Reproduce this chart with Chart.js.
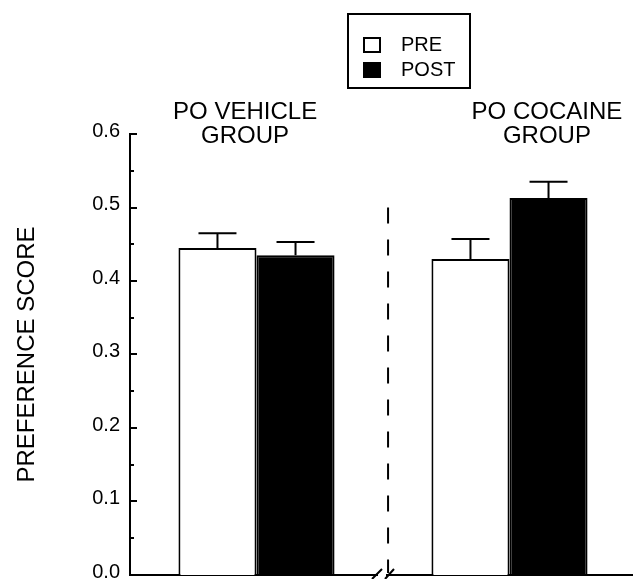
<!DOCTYPE html>
<html>
<head>
<meta charset="utf-8">
<script src="https://cdn.jsdelivr.net/npm/chart.js@4/dist/chart.umd.min.js"></script>
<style>
  html, body { margin: 0; padding: 0; background: #fff; overflow: hidden; }
  #wrap { width: 633px; height: 579px; position: relative; overflow: hidden; }
</style>
</head>
<body>
<div id="wrap"><canvas id="c" width="636" height="590"></canvas></div>
<script>
// ---- data ----
const categories = ['PO VEHICLE GROUP', 'PO COCAINE GROUP'];
const groupLabelLines = [['PO VEHICLE', 'GROUP'], ['PO COCAINE', 'GROUP']];
const seriesNames = ['PRE', 'POST'];
const preValues = [0.445, 0.430];
const postValues = [0.435, 0.513];
const preErrors = [0.020, 0.027];
const postErrors = [0.018, 0.022];
const yTickValues = [0.0, 0.1, 0.2, 0.3, 0.4, 0.5, 0.6];
const yMinorStep = 0.05;
const dividerAt = 0.52;      // category-index position of the dashed divider
const dividerTop = 0.50;     // y value where the dashed divider starts
const breakAt = 0.5;         // category-index position of the axis break

const FONT = '"Liberation Sans", Arial, Helvetica, sans-serif';

const errorBars = {
  id: 'errorBars',
  afterDatasetsDraw(chart) {
    const ctx = chart.ctx;
    const y = chart.scales.y;
    ctx.save();
    ctx.strokeStyle = '#000';
    ctx.lineWidth = 2;
    chart.data.datasets.forEach((ds, di) => {
      const meta = chart.getDatasetMeta(di);
      meta.data.forEach((bar, i) => {
        const v = ds.data[i];
        const e = ds.errors[i];
        const yTop = y.getPixelForValue(v + e);
        const yBase = y.getPixelForValue(v);
        ctx.beginPath();
        ctx.moveTo(bar.x, yBase);
        ctx.lineTo(bar.x, yTop);
        ctx.moveTo(bar.x - 19, yTop);
        ctx.lineTo(bar.x + 19, yTop);
        ctx.stroke();
      });
    });
    ctx.restore();
  }
};

const decorations = {
  id: 'decorations',
  afterDraw(chart) {
    const ctx = chart.ctx;
    const xs = chart.scales.x;
    const ys = chart.scales.y;
    const area = chart.chartArea;
    ctx.save();
    // inward y ticks
    ctx.strokeStyle = '#000';
    ctx.lineWidth = 2;
    const n = Math.round((yTickValues[yTickValues.length - 1] - yTickValues[0]) / yMinorStep);
    for (let k = 0; k <= n; k++) {
      const v = yTickValues[0] + k * yMinorStep;
      const py = Math.round(ys.getPixelForValue(v));
      const len = (k % 2 === 0) ? 7 : 4;
      ctx.beginPath();
      ctx.moveTo(area.left, py);
      ctx.lineTo(area.left + len, py);
      ctx.stroke();
    }
    // dashed divider
    const dx = xs.getPixelForValue(dividerAt);
    ctx.setLineDash([16, 16]);
    ctx.beginPath();
    ctx.moveTo(dx, ys.getPixelForValue(dividerTop));
    ctx.lineTo(dx, area.bottom - 2);
    ctx.stroke();
    ctx.setLineDash([]);
    // axis break
    const bx = xs.getPixelForValue(breakAt);
    ctx.fillStyle = '#fff';
    ctx.fillRect(bx - 5, area.bottom - 3, 8, 6);
    ctx.beginPath();
    ctx.moveTo(bx - 11, area.bottom + 4);
    ctx.lineTo(bx - 1, area.bottom - 6);
    ctx.moveTo(bx + 2, area.bottom + 4);
    ctx.lineTo(bx + 11, area.bottom - 6);
    ctx.stroke();
    // group labels
    ctx.fillStyle = '#000';
    ctx.font = '24px ' + FONT;
    ctx.textAlign = 'center';
    ctx.textBaseline = 'middle';
    const labelShift = [-0.045, 0.148];
    groupLabelLines.forEach((lines, i) => {
      const cx = xs.getPixelForValue(i + labelShift[i]);
      lines.forEach((t, j) => {
        ctx.fillText(t, cx, area.top - 22 + j * 24);
      });
    });
    // legend box
    ctx.lineWidth = 2;
    ctx.strokeStyle = '#000';
    ctx.strokeRect(348, 14, 122, 74);
    ctx.font = '20px ' + FONT;
    ctx.textAlign = 'left';
    chart.data.datasets.forEach((ds, di) => {
      const yy = 45 + di * 25;
      ctx.fillStyle = ds.backgroundColor;
      ctx.fillRect(364, yy - 7, 16, 14);
      ctx.strokeRect(364, yy - 7, 16, 14);
      ctx.fillStyle = '#000';
      ctx.fillText(ds.label, 401, yy);
    });
    ctx.restore();
  }
};

new Chart(document.getElementById('c'), {
  type: 'bar',
  data: {
    labels: categories,
    datasets: [
      { label: seriesNames[0], data: preValues, errors: preErrors,
        backgroundColor: '#ffffff', borderColor: '#000000', borderWidth: 2,
        barPercentage: 1.0, categoryPercentage: 0.617, borderSkipped: 'bottom' },
      { label: seriesNames[1], data: postValues, errors: postErrors,
        backgroundColor: '#000000', borderColor: '#000000', borderWidth: 2,
        barPercentage: 1.0, categoryPercentage: 0.617, borderSkipped: 'bottom' }
    ]
  },
  options: {
    responsive: false,
    animation: false,
    devicePixelRatio: 1,
    layout: { padding: { top: 134, left: 0, right: 0, bottom: 15 } },
    plugins: { legend: { display: false }, tooltip: { enabled: false } },
    scales: {
      x: {
        grid: { display: false, drawTicks: false },
        ticks: { display: false },
        border: { display: true, color: '#000', width: 2 }
      },
      y: {
        min: 0, max: 0.6,
        afterBuildTicks(scale) { scale.ticks = yTickValues.map(v => ({ value: v })); },
        afterFit(scale) { scale.width = 130; },
        grid: { display: false, drawTicks: false },
        border: { display: true, color: '#000', width: 2 },
        ticks: {
          color: '#000', padding: 10, labelOffset: -3,
          font: { family: FONT, size: 20, lineHeight: 0.4 },
          callback: v => Number(v).toFixed(1)
        },
        title: {
          display: true, text: 'PREFERENCE SCORE', color: '#000',
          font: { family: FONT, size: 24 }, padding: { top: 13, bottom: 0 }
        }
      }
    }
  },
  plugins: [errorBars, decorations]
});
</script>
</body>
</html>
